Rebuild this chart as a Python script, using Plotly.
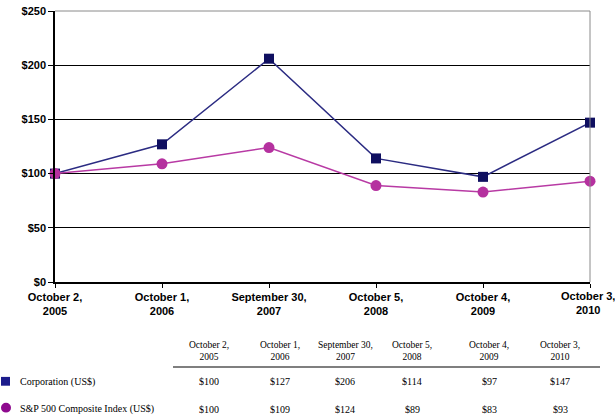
import plotly.graph_objects as go

dates = ["October 2,<br>2005", "October 1,<br>2006", "September 30,<br>2007",
         "October 5,<br>2008", "October 4,<br>2009", "October 3,<br>2010"]
corp = [100, 127, 206, 114, 97, 147]
sp500 = [100, 109, 124, 89, 83, 93]
series_names = ["Corporation (US$)", "S&P 500 Composite Index (US$)"]
y_ticks = [0, 50, 100, 150, 200, 250]

W, H = 615, 419
L, R, T, B = 55, 25, 5, 137
pw, ph = W - L - R, H - T - B

def px(x):
    return (x - L) / pw

def py(y):
    return (H - B - y) / ph

def bold_lines(s):
    return "<br>".join("<b>" + p + "</b>" for p in s.split("<br>"))

fig = go.Figure()
fig.add_trace(go.Scatter(x=dates, y=corp, mode="lines+markers", name=series_names[0],
                         line=dict(color="#2b2b82", width=1.5),
                         marker=dict(symbol="square", size=10, color="#0f0f60"),
                         cliponaxis=False))
fig.add_trace(go.Scatter(x=dates, y=sp500, mode="lines+markers", name=series_names[1],
                         line=dict(color="#b83aa4", width=1.5),
                         marker=dict(symbol="circle", size=11, color="#b5319f"),
                         cliponaxis=False))

fig.update_layout(
    width=W, height=H, margin=dict(l=L, r=R, t=T, b=B),
    paper_bgcolor="white", plot_bgcolor="white", showlegend=False,
    font=dict(family="Liberation Sans, Arial", color="black"),
)
xt = [bold_lines(d) for d in dates]
xt[-1] = ""
fig.update_xaxes(type="category", range=[0, len(dates) - 1], showgrid=False,
                 showline=True, linecolor="black", linewidth=1.5,
                 ticks="outside", ticklen=4, tickcolor="black",
                 tickfont=dict(family="Liberation Sans, Arial", size=11, color="black"),
                 ticklabelstandoff=0, ticklabeloverflow="allow",
                 tickvals=dates, ticktext=xt)
fig.update_yaxes(range=[0, 250], tickvals=y_ticks,
                 ticktext=["<b>$" + str(v) + "</b>" for v in y_ticks],
                 showgrid=True, gridcolor="black", gridwidth=1.2,
                 showline=True, linecolor="black", linewidth=1.5,
                 ticks="outside", ticklen=5, tickcolor="black",
                 ticklabeloverflow="allow",
                 tickfont=dict(family="Liberation Sans, Arial", size=11, color="black"),
                 zeroline=False)

# last x tick label, shifted so it stays inside the page
fig.add_annotation(x=px(588), y=py(288), xref="paper", yref="paper",
                   text=bold_lines(dates[-1]), showarrow=False, align="center",
                   font=dict(family="Liberation Sans, Arial", size=11, color="black"),
                   xanchor="center", yanchor="top")

# plot border top/right in gray
fig.add_shape(type="line", xref="paper", yref="paper", x0=0, x1=1, y0=1, y1=1,
              line=dict(color="#8a8a8a", width=1))
fig.add_shape(type="line", xref="paper", yref="paper", x0=1, x1=1, y0=0, y1=1,
              line=dict(color="#8a8a8a", width=1))

# table
col_x = [209, 280, 345, 412, 489, 560]
tfont = dict(family="Liberation Serif, Times New Roman", size=10, color="black")
for i, d in enumerate(dates):
    fig.add_annotation(x=px(col_x[i]), y=py(353), xref="paper", yref="paper",
                       text=d, showarrow=False, font=dict(family="Liberation Serif", size=9.5, color="black"),
                       xanchor="center", yanchor="middle")
    fig.add_annotation(x=px(col_x[i]), y=py(384), xref="paper", yref="paper",
                       text="$" + str(corp[i]), showarrow=False, font=tfont,
                       xanchor="center", yanchor="middle")
    fig.add_annotation(x=px(col_x[i]), y=py(412), xref="paper", yref="paper",
                       text="$" + str(sp500[i]), showarrow=False, font=tfont,
                       xanchor="center", yanchor="middle")

fig.add_shape(type="line", xref="paper", yref="paper", x0=px(173), x1=px(600),
              y0=py(369), y1=py(369), line=dict(color="#555555", width=1.5))

# legend rows
fig.add_shape(type="rect", xref="paper", yref="paper", x0=px(1), x1=px(10),
              y0=py(379), y1=py(388), fillcolor="#1c1c8c", line=dict(width=0))
fig.add_shape(type="circle", xref="paper", yref="paper", x0=px(1), x1=px(11),
              y0=py(405.5), y1=py(415.5), fillcolor="#8e0a8e", line=dict(width=0))
fig.add_annotation(x=px(18), y=py(384), xref="paper", yref="paper", text=series_names[0],
                   showarrow=False, font=tfont, xanchor="left", yanchor="middle")
fig.add_annotation(x=px(18), y=py(412), xref="paper", yref="paper", text=series_names[1],
                   showarrow=False, font=tfont, xanchor="left", yanchor="middle")

fig.write_html("out.html", config={"displayModeBar": False},
               post_script="document.body.style.margin='0';document.body.style.overflow='hidden';")
